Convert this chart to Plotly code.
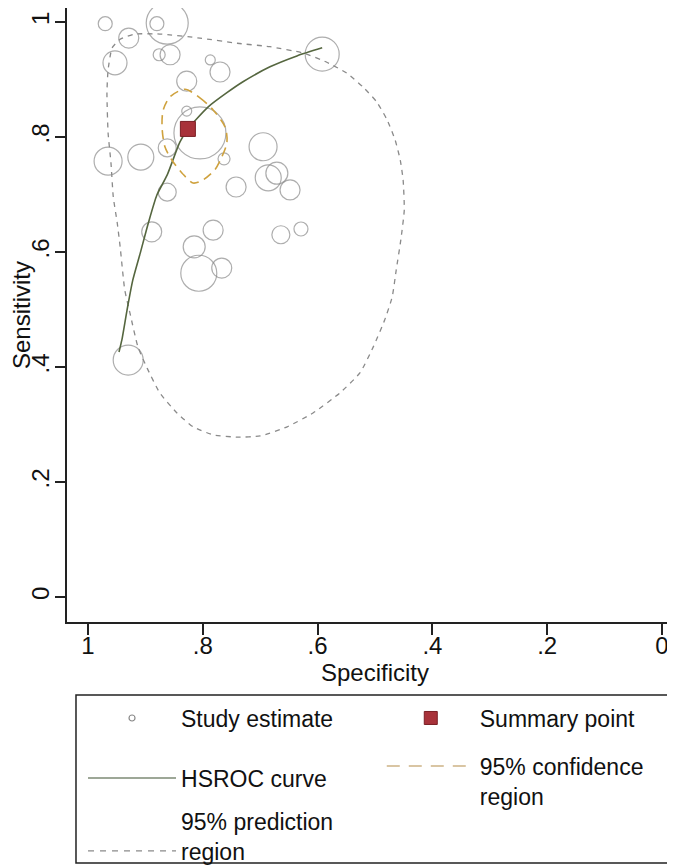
import plotly.graph_objects as go

# ---- Study estimates (specificity, sensitivity, relative weight = circle diameter) ----
study_spec = [0.970, 0.862, 0.880, 0.929, 0.953, 0.876, 0.857, 0.787, 0.770, 0.828,
              0.828, 0.805, 0.862, 0.763, 0.965, 0.908, 0.695, 0.686, 0.671, 0.648,
              0.742, 0.862, 0.889, 0.782, 0.815, 0.807, 0.767, 0.664, 0.629, 0.592,
              0.930]
study_sens = [0.997, 0.998, 0.997, 0.972, 0.929, 0.943, 0.943, 0.934, 0.913, 0.897,
              0.845, 0.807, 0.781, 0.762, 0.758, 0.765, 0.783, 0.729, 0.737, 0.708,
              0.713, 0.704, 0.635, 0.638, 0.609, 0.563, 0.572, 0.630, 0.640, 0.944,
              0.412]
study_weight = [14, 42, 14, 20, 24, 12, 20, 10, 20, 20,
                10, 52, 18, 12, 28, 26, 28, 26, 22, 20,
                20, 18, 20, 20, 22, 36, 20, 18, 14, 34,
                30]

# ---- Summary point ----
summary_spec = [0.826]
summary_sens = [0.814]

# ---- HSROC curve ----
hsroc_spec = [0.592, 0.636, 0.683, 0.730, 0.758, 0.791, 0.826, 0.840, 0.862, 0.880,
              0.895, 0.909, 0.922, 0.932, 0.941, 0.946]
hsroc_sens = [0.955, 0.941, 0.922, 0.896, 0.877, 0.852, 0.814, 0.791, 0.734, 0.699,
              0.650, 0.598, 0.551, 0.499, 0.447, 0.426]

# ---- 95% confidence region ----
conf_spec = [0.831, 0.805, 0.782, 0.761, 0.758, 0.767, 0.779, 0.800, 0.817, 0.836,
             0.854, 0.866, 0.871, 0.869, 0.857, 0.831]
conf_sens = [0.883, 0.868, 0.847, 0.817, 0.790, 0.765, 0.743, 0.725, 0.720, 0.737,
             0.760, 0.783, 0.817, 0.847, 0.870, 0.883]

# ---- 95% prediction region ----
pred_spec = [0.965, 0.958, 0.944, 0.918, 0.875, 0.805, 0.740, 0.683, 0.625, 0.584,
             0.549, 0.521, 0.497, 0.479, 0.465, 0.456, 0.451, 0.449, 0.455, 0.463,
             0.470, 0.483, 0.503, 0.526, 0.561, 0.608, 0.653, 0.700, 0.740, 0.782,
             0.817, 0.845, 0.875, 0.897, 0.913, 0.927, 0.936, 0.944, 0.949, 0.956,
             0.960, 0.965, 0.967, 0.965]
pred_sens = [0.917, 0.955, 0.970, 0.979, 0.979, 0.972, 0.963, 0.957, 0.946, 0.930,
             0.911, 0.887, 0.861, 0.830, 0.795, 0.760, 0.725, 0.673, 0.621, 0.569,
             0.522, 0.482, 0.435, 0.390, 0.355, 0.320, 0.296, 0.280, 0.278, 0.282,
             0.296, 0.320, 0.355, 0.398, 0.435, 0.494, 0.534, 0.609, 0.650, 0.696,
             0.755, 0.807, 0.877, 0.917]

tick_vals = [0, 0.2, 0.4, 0.6, 0.8, 1]
tick_text = ["0", ".2", ".4", ".6", ".8", "1"]

FONT = "Liberation Sans, Arial, sans-serif"
GRAY = "#8a8a8a"

fig = go.Figure()

# study circles (drawn, no legend)
fig.add_trace(go.Scatter(
    x=study_spec, y=study_sens, mode="markers", showlegend=False,
    marker=dict(size=study_weight, symbol="circle-open", color=GRAY,
                line=dict(width=1.2, color=GRAY)),
    cliponaxis=False, hoverinfo="skip"))

# prediction region
fig.add_trace(go.Scatter(
    x=pred_spec, y=pred_sens, mode="lines", showlegend=False,
    line=dict(color=GRAY, width=1.3, dash="5px,5px", shape="spline", smoothing=0.5),
    hoverinfo="skip"))

# HSROC curve
fig.add_trace(go.Scatter(
    x=hsroc_spec, y=hsroc_sens, mode="lines", showlegend=False,
    line=dict(color="#55663f", width=1.6, shape="spline", smoothing=0.6),
    hoverinfo="skip"))

# confidence region
fig.add_trace(go.Scatter(
    x=conf_spec, y=conf_sens, mode="lines", showlegend=False,
    line=dict(color="#CFA23E", width=1.6, dash="9px,6px", shape="spline", smoothing=0.8),
    hoverinfo="skip"))

# summary point
fig.add_trace(go.Scatter(
    x=summary_spec, y=summary_sens, mode="markers", showlegend=False,
    marker=dict(size=15, symbol="square", color="#A8323A",
                line=dict(width=1, color="#7a1f25")),
    hoverinfo="skip"))

# legend entries (one small legend per entry so that the 2-column layout matches)
fig.add_trace(go.Scatter(x=[None], y=[None], mode="markers", name="Study estimate",
                         legend="legend",
                         marker=dict(size=6, symbol="circle-open", color=GRAY,
                                     line=dict(width=1.2, color=GRAY))))
fig.add_trace(go.Scatter(x=[None], y=[None], mode="markers", name="Summary point",
                         legend="legend2",
                         marker=dict(size=13, symbol="square", color="#A8323A",
                                     line=dict(width=1, color="#7a1f25"))))
fig.add_trace(go.Scatter(x=[None], y=[None], mode="lines", name="HSROC curve",
                         legend="legend3",
                         line=dict(color="#7d8a74", width=1.6)))
fig.add_trace(go.Scatter(x=[None], y=[None], mode="lines", name="95% confidence<br>region",
                         legend="legend4",
                         line=dict(color="#CDB385", width=1.6, dash="13px,9px")))
fig.add_trace(go.Scatter(x=[None], y=[None], mode="lines", name="95% prediction<br>region",
                         legend="legend5",
                         line=dict(color=GRAY, width=1.3, dash="6px,6px")))


def leg(x, y, valign="middle"):
    return dict(x=x, y=y, xanchor="left", yanchor="middle", orientation="v",
                bgcolor="rgba(0,0,0,0)", borderwidth=0,
                font=dict(size=23, family=FONT, color="#111"),
                itemwidth=88, valign=valign)


fig.update_layout(
    width=675, height=867,
    margin=dict(l=59, r=0, t=0, b=253, autoexpand=False),
    paper_bgcolor="white", plot_bgcolor="white",
    font=dict(family=FONT, size=24, color="#111"),
    xaxis=dict(range=[1.0366, -0.0366], tickvals=tick_vals, ticktext=tick_text,
               showgrid=False, zeroline=False, showline=True, linecolor="#222",
               linewidth=1.5, ticks="outside", ticklen=11, tickcolor="#222",
               tickwidth=1.5, tickfont=dict(size=24), automargin=False,
               ticklabelstandoff=-10,
               title=dict(text="Specificity", font=dict(size=24), standoff=0)),
    yaxis=dict(range=[-0.0435, 1.0243], tickvals=tick_vals, ticktext=tick_text,
               showgrid=False, zeroline=False, showline=True, linecolor="#222",
               linewidth=1.5, ticks="outside", ticklen=10, tickcolor="#222",
               tickwidth=1.5, tickangle=-90, tickfont=dict(size=24), automargin=False,
               ticklabelstandoff=-3,
               title=dict(text="Sensitivity", font=dict(size=24), standoff=4)),
    legend=leg(0.026, -0.1564),
    legend2=leg(0.511, -0.1564),
    legend3=leg(0.026, -0.2541),
    legend4=leg(0.511, -0.2590, "top"),
    legend5=leg(0.026, -0.3485, "bottom"),
    shapes=[dict(type="rect", xref="paper", yref="paper",
                 x0=0.0146, x1=0.979, y0=-0.3925, y1=-0.1189,
                 line=dict(color="#222", width=1.5), fillcolor="rgba(0,0,0,0)")],
)

fig.write_html("out.html")
